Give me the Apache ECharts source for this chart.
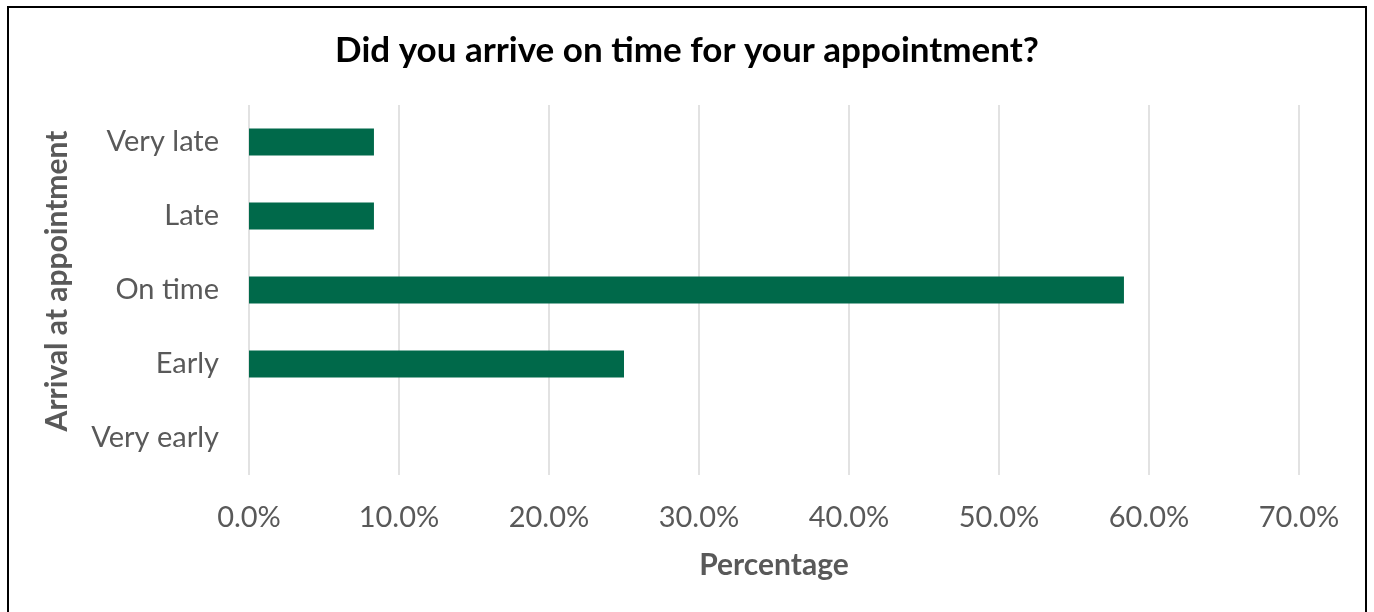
<!DOCTYPE html>
<html>
<head>
<meta charset="utf-8">
<script src="https://cdn.jsdelivr.net/npm/echarts@6/dist/echarts.min.js"></script>
<style>
html,body{margin:0;padding:0;background:#fff;}
#c{width:1374px;height:612px;}
</style>
</head>
<body>
<div id="c"></div>
<script>
const categories = ["Very late", "Late", "On time", "Early", "Very early"];
const percentages = [8.33, 8.33, 58.33, 25.0, 0];
const xTicks = [0, 10, 20, 30, 40, 50, 60, 70];

const chart = echarts.init(document.getElementById('c'), null, {renderer: 'canvas'});
const FONT = 'Lato';
chart.setOption({
  animation: false,
  backgroundColor: '#ffffff',
  graphic: [{
    type: 'rect',
    shape: {x: 8, y: 7, width: 1358, height: 700},
    style: {fill: 'none', stroke: '#000', lineWidth: 2},
    silent: true
  }],
  title: {
    text: 'Did you arrive on time for your appointment?',
    left: 'center',
    top: 28,
    textStyle: {fontFamily: FONT, fontWeight: 'bold', fontSize: 35, color: '#000'}
  },
  grid: {left: 249, right: 75, top: 105, bottom: 137, containLabel: false},
  xAxis: {
    type: 'value',
    min: xTicks[0],
    max: xTicks[xTicks.length - 1],
    interval: 10,
    name: 'Percentage',
    nameLocation: 'middle',
    nameGap: 75,
    nameTextStyle: {fontFamily: FONT, fontWeight: 'bold', fontSize: 30, color: '#595959'},
    axisLine: {show: false},
    axisTick: {show: false},
    axisLabel: {
      fontFamily: FONT, fontSize: 29, color: '#595959', margin: 28,
      formatter: v => v.toFixed(1) + '%'
    },
    splitLine: {show: true, lineStyle: {color: '#d9d9d9', width: 1.5}}
  },
  yAxis: {
    type: 'category',
    data: categories,
    inverse: true,
    name: 'Arrival at appointment',
    nameLocation: 'middle',
    nameGap: 177,
    nameRotate: 90,
    nameTextStyle: {fontFamily: FONT, fontWeight: 'bold', fontSize: 30, color: '#595959', padding: [0, 0, 0, 18]},
    axisLine: {show: false},
    axisTick: {show: false},
    axisLabel: {fontFamily: FONT, fontSize: 29, color: '#595959', margin: 30}
  },
  series: [{
    type: 'bar',
    data: percentages,
    barWidth: 27,
    itemStyle: {color: '#00694A'},
    silent: true
  }]
});
</script>
</body>
</html>
